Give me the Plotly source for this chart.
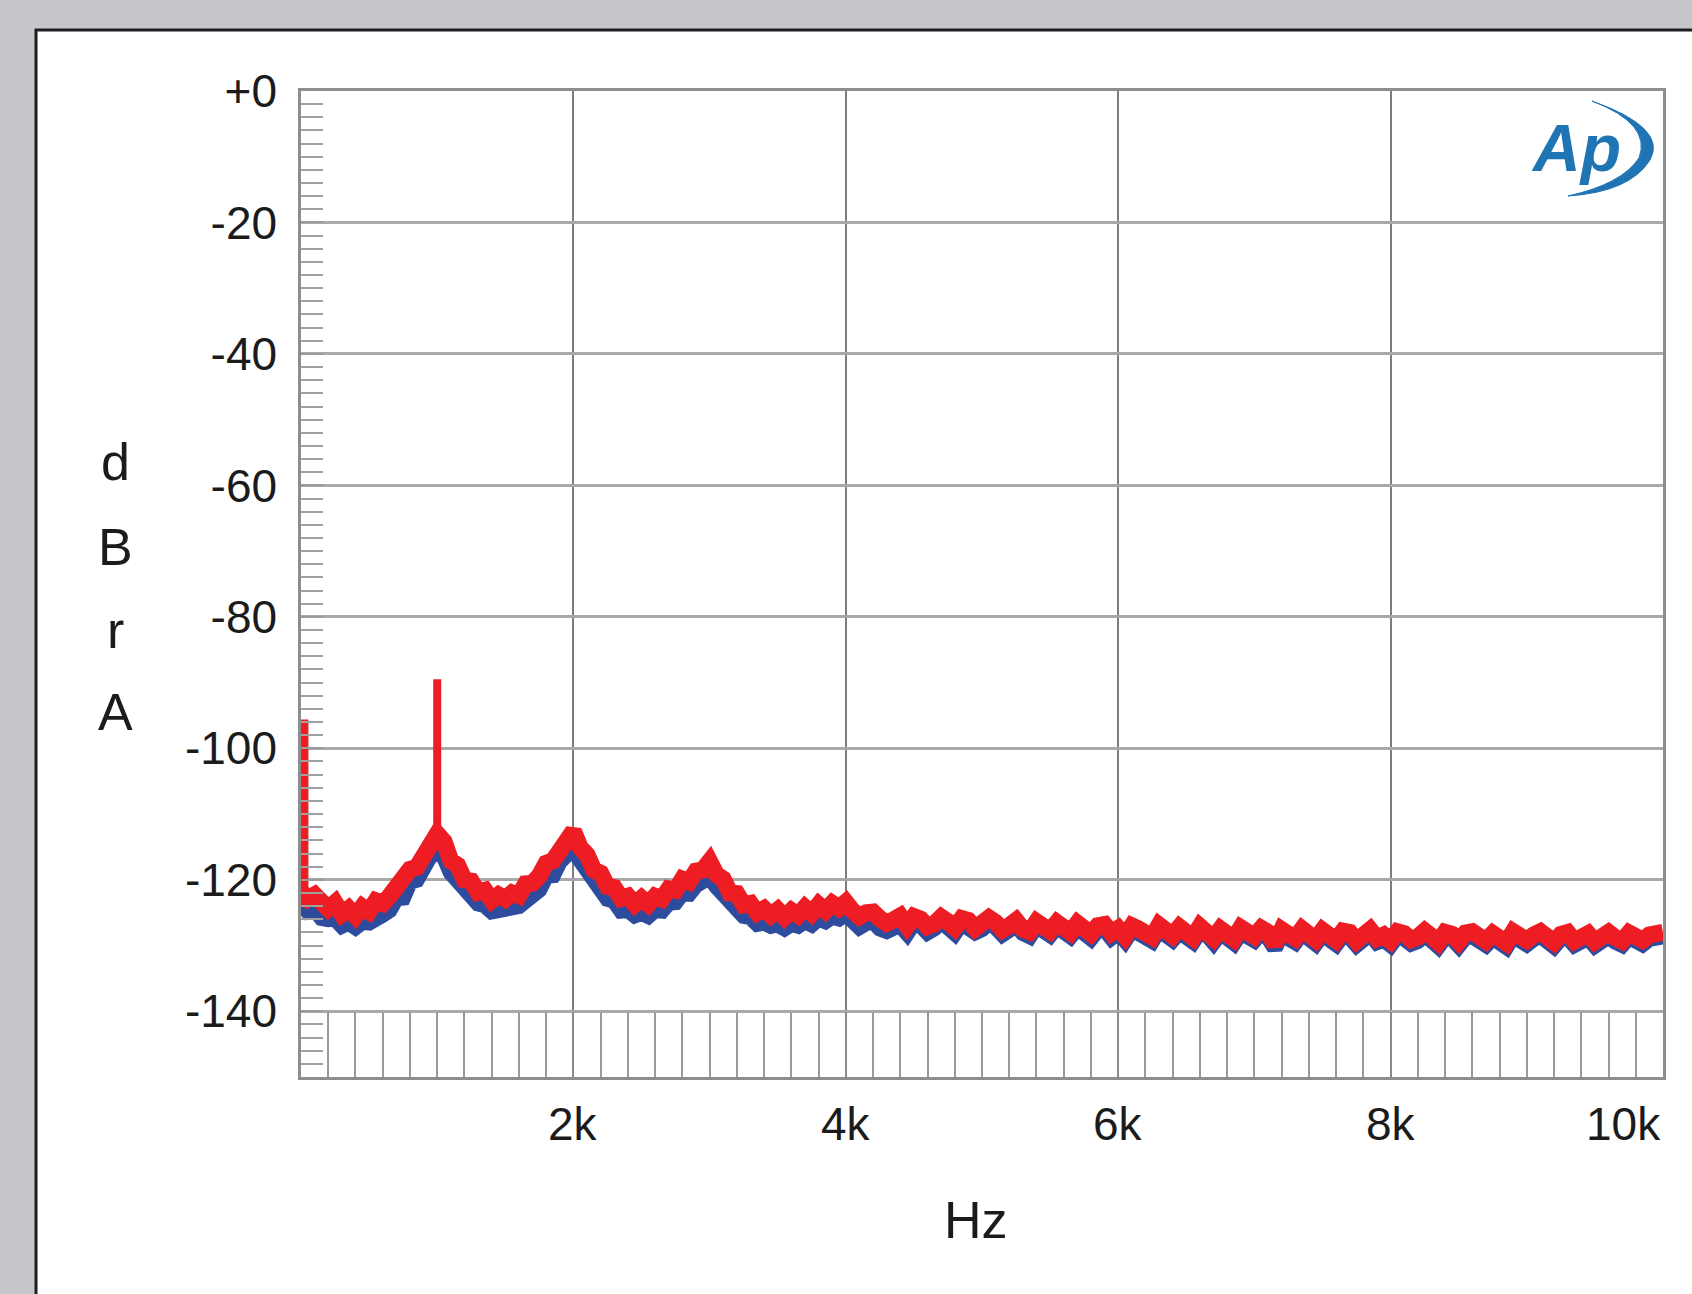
import plotly.graph_objects as go

# FFT noise-floor spectrum, 0 Hz to 10 kHz, one value every 50 Hz (dBrA)
FREQ_STEP_HZ = 50
FREQ_HZ = list(range(0, 10001, FREQ_STEP_HZ))

RIGHT_CH_DB = [
    -121.8, -122.9, -122.3, -123.7, -124.4, -123.5, -125.2, -124.4, -125.5, -124.1,
    -124.8, -123.2, -123.6, -122.5, -121.0, -120.6, -118.4, -118.1, -116.0, -114.0,
    -113.0, -114.2, -117.1, -117.8, -120.0, -120.2, -121.9, -121.6, -123.1, -122.3,
    -122.9, -122.0, -122.4, -120.6, -120.5, -119.4, -117.5, -117.1, -115.3, -114.2,
    -112.6, -115.1, -116.2, -118.5, -119.0, -121.0, -121.2, -122.8, -122.5, -123.7,
    -122.8, -123.7, -122.5, -122.9, -121.4, -121.6, -119.9, -120.3, -118.7, -118.5,
    -117.2, -119.2, -119.9, -122.0, -122.1, -123.8, -123.6, -125.0, -124.4, -125.4,
    -124.6, -125.7, -124.7, -125.4, -124.2, -125.1, -123.8, -124.7, -123.6, -124.3,
    -123.4, -124.7, -125.6, -125.0, -124.9, -125.9, -126.6, -126.1, -125.5, -127.0,
    -125.6, -126.0, -127.1, -126.7, -125.7, -126.4, -127.3, -125.9, -126.2, -127.4,
    -126.9, -125.8, -126.5, -127.6, -127.0, -126.2, -127.5, -127.9, -126.4, -126.9,
    -127.8, -126.5, -127.1, -128.0, -126.6, -127.4, -128.2, -127.0, -126.8, -128.1,
    -127.4, -128.6, -127.0, -127.5, -128.3, -128.7, -126.9, -127.6, -128.5, -127.2,
    -127.9, -128.8, -127.1, -127.7, -128.9, -127.5, -128.1, -129.0, -127.3, -128.4,
    -128.6, -127.4, -128.0, -129.8, -127.6, -128.3, -128.9, -127.5, -128.2, -129.1,
    -127.7, -128.5, -129.2, -127.8, -128.0, -129.3, -128.6, -127.6, -128.9, -128.4,
    -129.3, -127.9, -128.2, -129.1, -128.7, -127.8, -128.6, -129.5, -128.0, -128.3,
    -129.4, -128.1, -127.9, -128.9, -129.3, -128.2, -128.6, -129.6, -127.9, -128.5,
    -129.2, -128.4, -127.9, -128.7, -129.5, -128.3, -128.0, -129.3, -128.8, -128.2,
    -129.4, -128.6, -128.0, -128.8, -129.3, -128.1, -128.5, -129.2, -128.4, -128.0,
    -128.0,
]

LEFT_CH_DB = [
    -123.6, -124.8, -124.5, -125.8, -126.0, -125.9, -127.0, -126.5, -127.2, -126.4,
    -126.5, -125.5, -125.3, -124.6, -122.8, -122.7, -120.3, -120.0, -118.1, -116.3,
    -115.8, -116.5, -118.9, -120.0, -121.8, -122.4, -123.6, -123.9, -124.8, -124.6,
    -124.7, -124.2, -124.0, -122.9, -122.1, -121.5, -119.4, -119.3, -117.2, -116.4,
    -115.2, -117.0, -118.4, -120.4, -121.0, -122.9, -123.2, -124.7, -124.6, -125.4,
    -125.0, -125.5, -124.6, -124.7, -123.5, -123.4, -122.0, -122.1, -120.8, -120.3,
    -119.6, -121.0, -122.0, -123.8, -124.2, -125.5, -125.7, -126.7, -126.5, -127.0,
    -126.8, -127.4, -126.7, -127.0, -126.3, -126.8, -125.9, -126.3, -125.6, -125.9,
    -125.2, -126.2, -127.2, -126.6, -126.3, -127.4, -127.8, -127.3, -126.9, -128.1,
    -126.5, -126.9, -128.0, -127.4, -126.4, -127.2, -128.1, -126.6, -127.1, -128.0,
    -127.5, -126.5, -127.2, -128.3, -127.6, -126.9, -128.1, -128.6, -127.0, -127.6,
    -128.4, -127.1, -127.8, -128.6, -127.3, -128.0, -128.9, -127.6, -127.5, -128.8,
    -128.0, -129.2, -127.6, -128.1, -129.0, -129.3, -127.6, -128.2, -129.1, -127.9,
    -128.5, -129.4, -127.8, -128.3, -129.5, -128.1, -128.8, -129.6, -128.0, -129.0,
    -129.2, -128.0, -128.7, -130.4, -128.2, -128.9, -129.5, -128.1, -128.9, -129.7,
    -128.3, -129.1, -129.8, -128.4, -128.7, -129.9, -129.2, -128.2, -129.5, -129.1,
    -129.9, -128.5, -128.9, -129.7, -129.3, -128.4, -129.2, -130.1, -128.7, -128.9,
    -130.0, -128.7, -128.6, -129.5, -129.9, -128.8, -129.2, -130.2, -128.5, -129.1,
    -129.8, -129.0, -128.5, -129.3, -130.1, -128.9, -128.7, -129.9, -129.4, -128.8,
    -130.0, -129.2, -128.6, -129.4, -129.9, -128.7, -129.1, -129.8, -129.0, -128.6,
    -128.6,
]

# discrete tones standing above the noise floor (right channel)
TONE_HZ = [25, 1000]
TONE_DB = [-95.6, -89.5]

Y_TICK_VALS = [0, -20, -40, -60, -80, -100, -120, -140]
Y_TICK_TEXT = ["+0", "-20", "-40", "-60", "-80", "-100", "-120", "-140"]
X_TICK_VALS = [2000, 4000, 6000, 8000, 10000]
X_TICK_TEXT = ["2k", "4k", "6k", "8k", "10k"]
Y_LABEL_LETTERS = ["d", "B", "r", "A"]

# page geometry (pixels)
W, H = 1692, 1294
PLOT_L, PLOT_R, PLOT_T, PLOT_B = 301, 1663, 91, 1077
PW, PH = PLOT_R - PLOT_L, PLOT_B - PLOT_T


def px(x):
    return (x - PLOT_L) / PW


def py(y):
    return (PLOT_B - y) / PH


FONT = "Liberation Sans, Arial, Helvetica, sans-serif"
TEXT_COLOR = "#1b1b1b"
RED = "#ee1d24"
BLUE = "#2d4c9e"

fig = go.Figure()
fig.add_trace(go.Scatter(x=FREQ_HZ, y=LEFT_CH_DB, mode="lines",
                         line=dict(color=BLUE, width=16), hoverinfo="skip"))
fig.add_trace(go.Scatter(x=FREQ_HZ, y=RIGHT_CH_DB, mode="lines",
                         line=dict(color=RED, width=17), hoverinfo="skip"))

# tone stems rise from the floor value in the nearest bin
stem_x, stem_y = [], []
for f, db in zip(TONE_HZ, TONE_DB):
    floor_db = RIGHT_CH_DB[round(f / FREQ_STEP_HZ)]
    stem_x += [f, f, None]
    stem_y += [floor_db, db, None]
fig.add_trace(go.Scatter(x=stem_x, y=stem_y, mode="lines",
                         line=dict(color=RED, width=8), hoverinfo="skip"))

fig.update_layout(
    width=W, height=H,
    margin=dict(l=PLOT_L, r=W - PLOT_R, t=PLOT_T, b=H - PLOT_B, pad=0),
    paper_bgcolor="#c7c7cb",
    plot_bgcolor="white",
    showlegend=False,
    font=dict(family=FONT, color=TEXT_COLOR),
)

fig.update_xaxes(
    range=[0, 10000], showgrid=True, gridcolor="#7c7c7c", gridwidth=1.5,
    tickvals=X_TICK_VALS, showticklabels=False,
    ticks="inside", ticklen=PLOT_B - 1012, tickcolor="#8a8a8a", tickwidth=1.5,
    minor=dict(dtick=200, ticks="inside", ticklen=PLOT_B - 1012,
               tickcolor="#9a9a9a", tickwidth=1.5, showgrid=False),
    showline=True, linecolor="#8e8e8e", linewidth=2.5, mirror=True,
    zeroline=False,
)
fig.update_yaxes(
    range=[-150, 0], showgrid=True, gridcolor="#a9a9a9", gridwidth=2.5,
    tickvals=Y_TICK_VALS, ticktext=Y_TICK_TEXT,
    ticks="inside", ticklen=22, tickcolor="#9a9a9a", tickwidth=2,
    ticklabelstandoff=12,
    tickfont=dict(size=46, family=FONT, color=TEXT_COLOR),
    minor=dict(dtick=2, ticks="inside", ticklen=22,
               tickcolor="#a0a0a0", tickwidth=2, showgrid=False),
    showline=True, linecolor="#8e8e8e", linewidth=2.5, mirror=True,
    zeroline=False,
)

# white panel behind the chart
fig.add_shape(type="rect", xref="paper", yref="paper", layer="below",
              x0=px(36), x1=px(W + 20), y0=py(H + 20), y1=py(30),
              fillcolor="white", line=dict(color="#1e1e1e", width=3))

# x tick labels (the last one right-aligned to the plot edge)
for v, t in zip(X_TICK_VALS, X_TICK_TEXT):
    fig.add_annotation(x=v, y=py(1124), xref="x", yref="paper", text=t,
                       showarrow=False, xanchor="right" if v == 10000 else "center",
                       yanchor="middle",
                       font=dict(size=46, family=FONT, color=TEXT_COLOR))

fig.add_annotation(x=px(976), y=py(1220), xref="paper", yref="paper", text="Hz",
                   showarrow=False, xanchor="center", yanchor="middle",
                   font=dict(size=52, family=FONT, color=TEXT_COLOR))

for letter, ycen in zip(Y_LABEL_LETTERS, [462, 547, 630, 712]):
    fig.add_annotation(x=px(115), y=py(ycen), xref="paper", yref="paper", text=letter,
                       showarrow=False, xanchor="center", yanchor="middle",
                       font=dict(size=52, family=FONT, color=TEXT_COLOR))

# Audio Precision logo
LOGO_BLUE = "#1f74b4"
fig.add_annotation(x=px(1576), y=py(148), xref="paper", yref="paper",
                   text="<b><i>Ap</i></b>", showarrow=False,
                   xanchor="center", yanchor="middle",
                   font=dict(size=66, family=FONT, color=LOGO_BLUE))


def path_from_px(points):
    out = []
    for cmd, coords in points:
        pts = " ".join(f"{px(x):.5f},{py(y):.5f}" for x, y in coords)
        out.append(f"{cmd}{pts}")
    return " ".join(out) + " Z"


arc = path_from_px([
    ("M", [(1592, 101)]),
    ("Q", [(1668, 128), (1650, 160)]),
    ("Q", [(1630, 192), (1568, 196)]),
    ("Q", [(1622, 184), (1639, 158)]),
    ("Q", [(1652, 124), (1592, 101)]),
])
fig.add_shape(type="path", xref="paper", yref="paper", path=arc,
              fillcolor=LOGO_BLUE, line=dict(color=LOGO_BLUE, width=1))

fig.write_html("out.html")
